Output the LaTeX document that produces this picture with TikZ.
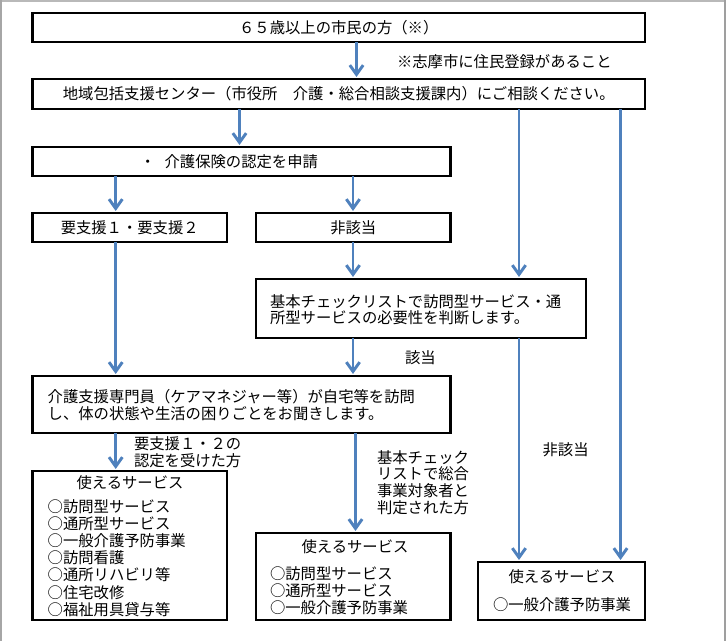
\documentclass[tikz,border=0pt]{standalone}
\usepackage{fontspec}
\setmainfont{Noto Sans CJK JP}
\usetikzlibrary{arrows.meta}
\definecolor{arrblue}{RGB}{79,129,189}
\begin{document}
\begin{tikzpicture}[x=0.75pt,y=-0.75pt,
  box/.style={draw=black,line width=1.8pt,anchor=north west,inner sep=0pt,outer sep=0pt,
    font=\fontsize{11.5pt}{12.5pt}\selectfont},
  txt/.style={inner sep=0pt,outer sep=0pt,align=left,font=\fontsize{11.5pt}{12.5pt}\selectfont},
  list/.style={txt,font=\fontsize{11.5pt}{12.9pt}\selectfont},
  arr/.style={draw=arrblue,line width=2.2pt,-{Straight Barb[length=7pt,width=10pt]},shorten >=1.5pt},
  frame/.style={line width=1.5pt}
  ]
\useasboundingbox (0,0) rectangle (726,641);
\fill[white] (0,0) rectangle (726,641);
\draw[frame,gray!55] (0,1) -- (726,1);
\draw[frame,gray!70] (1,0) -- (1,641);
\draw[frame,gray!75] (724.8,0) -- (724.8,641);

% boxes
\node[box,minimum width=459.375pt,minimum height=21.75pt] (b1) at (32.5,13) {６５歳以上の市民の方（※）};
\node[box,minimum width=459.375pt,minimum height=22.5pt] (b2) at (32.5,79) {地域包括支援センター（市役所　介護・総合相談支援課内）にご相談ください。};
\node[box,minimum width=313.5pt,minimum height=21.75pt] (b3) at (32.5,147) {};
\node[box,minimum width=145.875pt,minimum height=21.75pt] (b4) at (32.5,213) {要支援１・要支援２};
\node[box,minimum width=145.875pt,minimum height=21.75pt] (b5) at (256,213) {非該当};
\node[box,minimum width=247.5pt,minimum height=44.25pt] (b6) at (256,279) {};
\node[box,minimum width=313.5pt,minimum height=42.75pt] (b7) at (32.5,376) {};
\node[box,minimum width=145.875pt,minimum height=111.75pt] (b8) at (32.5,471) {};
\node[box,minimum width=145.875pt,minimum height=65.25pt] (b9) at (256,533) {};
\node[box,minimum width=125.25pt,minimum height=43.5pt] (b10) at (478,562) {};

% texts
\node[txt,anchor=west] (note) at (397,61.7) {※志摩市に住民登録があること};
\node[txt,anchor=west] (t3) at (140,162) {・\hspace{7pt}介護保険の認定を申請};
\node[txt,anchor=north west] (t6) at (270,294.3) {基本チェックリストで訪問型サービス・通\\所型サービスの必要性を判断します。};
\node[txt,anchor=north west] (t7) at (47.7,389.3) {介護支援専門員（ケアマネジャー等）が自宅等を訪問\\し、体の状態や生活の困りごとをお聞きします。};
\node[txt,anchor=west] (l1) at (405,358) {該当};
\node[list,anchor=north west] (l2) at (134,436.3) {要支援１・２の\\認定を受けた方};
\node[txt,anchor=north west] (l3) at (377,450.3) {基本チェック\\リストで総合\\事業対象者と\\判定された方};
\node[txt,anchor=west] (l4) at (542.6,450) {非該当};
\node[txt] (h8) at (130,483) {使えるサービス};
\node[list,anchor=north west] (i8) at (47.7,499.3) {○訪問型サービス\\○通所型サービス\\○一般介護予防事業\\○訪問看護\\○通所リハビリ等\\○住宅改修\\○福祉用具貸与等};
\node[txt] (h9) at (355,547) {使えるサービス};
\node[list,anchor=north west] (i9) at (270,566.3) {○訪問型サービス\\○通所型サービス\\○一般介護予防事業};
\node[txt] (h10) at (562,577) {使えるサービス};
\node[txt] (i10) at (562,605) {○一般介護予防事業};

% x positions of connectors
\coordinate (xa) at (356.5,0);
\coordinate (xb) at (239.5,0);
\coordinate (xc) at (115.7,0);
\coordinate (xd) at (353,0);
\coordinate (xe) at (355.5,0);
\coordinate (xf) at (519,0);
\coordinate (xg) at (620.5,0);

% connectors
\draw[arr] (xa |- b1.south) -- (xa |- b2.north);
\draw[arr] (xb |- b2.south) -- (xb |- b3.north);
\draw[arr] (xc |- b3.south) -- (xc |- b4.north);
\draw[arr] (xd |- b3.south) -- (xd |- b5.north);
\draw[arr] (xd |- b5.south) -- (xd |- b6.north);
\draw[arr] (xf |- b2.south) -- (xf |- b6.north);
\draw[arr] (xg |- b2.south) -- (xg |- b10.north);
\draw[arr] (xc |- b4.south) -- (xc |- b7.north);
\draw[arr] (xd |- b6.south) -- (xd |- b7.north);
\draw[arr] (xf |- b6.south) -- (xf |- b10.north);
\draw[arr] (xc |- b7.south) -- (xc |- b8.north);
\draw[arr] (xe |- b7.south) -- (xe |- b9.north);
\end{tikzpicture}
\end{document}
